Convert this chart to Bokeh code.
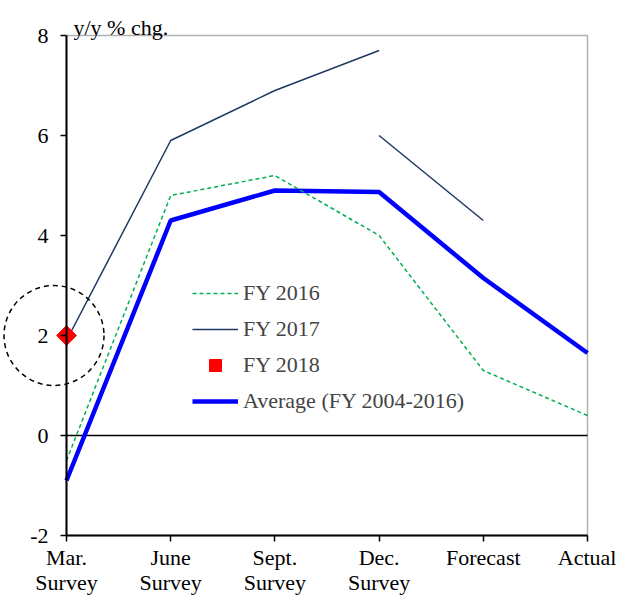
import numpy as np
from bokeh.plotting import figure
from bokeh.models import (Range1d, FixedTicker, BoxAnnotation, Label, Legend,
                          LegendItem, ColumnDataSource)
from bokeh.transform import dodge
from bokeh.embed import file_html
from bokeh.resources import INLINE

nan = float("nan")

# ---- data ----
categories = ["Mar.\nSurvey", "June\nSurvey", "Sept.\nSurvey", "Dec.\nSurvey", "Forecast", "Actual"]
fy2016 = [-0.5, 4.8, 5.2, 4.0, 1.3, 0.4]
fy2017 = [1.9, 5.9, 6.9, 7.7, nan, nan]
fy2017_late = [nan, nan, nan, 6.0, 4.3, nan]
fy2018 = [2.0, nan, nan, nan, nan, nan]
average = [-0.9, 4.3, 4.9, 4.87, 3.15, 1.65]
y_ticks = [-2, 0, 2, 4, 6, 8]
y_title = "y/y % chg."

FONT = "Liberation Serif"
FS = "22px"

xs = list(range(len(categories)))
src = ColumnDataSource(dict(x=xs, fy2016=fy2016, fy2017=fy2017, fy2017_late=fy2017_late,
                            fy2018=fy2018, average=average))

W, H = 616, 595
p = figure(width=W, height=H,
           x_range=Range1d(-0.6334, 5.2783),
           y_range=Range1d(-3.2, 8.7),
           output_backend="svg", toolbar_location=None,
           min_border_left=0, min_border_right=0, min_border_top=0, min_border_bottom=0)
p.xgrid.visible = False
p.ygrid.visible = False
p.outline_line_color = None
p.background_fill_color = "white"
p.border_fill_color = "white"

# frame box around the data area
p.add_layout(BoxAnnotation(left=xs[0], right=xs[-1], bottom=min(y_ticks), top=max(y_ticks),
                           fill_alpha=0, line_color="black", line_width=1.5))

# zero line
p.segment(x0=xs[0], x1=xs[-1], y0=0, y1=0, line_color="black", line_width=1.5)

# y axis crossing at the first category
yax = p.yaxis[0]
yax.fixed_location = xs[0]
yax.bounds = (min(y_ticks), max(y_ticks))
yax.ticker = FixedTicker(ticks=y_ticks)
yax.major_label_overrides = {t: str(t) for t in y_ticks}
yax.axis_line_width = 2
yax.major_tick_out = 6
yax.major_tick_in = 0
yax.major_tick_line_width = 1.5
yax.minor_tick_line_color = None
yax.major_label_text_font = FONT
yax.major_label_text_font_size = FS
yax.major_label_standoff = 12
yax.major_label_text_color = "black"

# x axis along the bottom of the data box
xax = p.xaxis[0]
xax.fixed_location = min(y_ticks)
xax.bounds = (xs[0], xs[-1])
xax.ticker = FixedTicker(ticks=xs)
xax.major_label_overrides = {i: c for i, c in zip(xs, categories)}
xax.axis_line_width = 2
xax.major_tick_out = 6
xax.major_tick_in = 0
xax.major_tick_line_width = 1.5
xax.minor_tick_line_color = None
xax.major_label_text_font = FONT
xax.major_label_text_font_size = FS
xax.major_label_text_line_height = 1.0
xax.major_label_standoff = 3
xax.major_label_text_color = "black"

# series
r_avg = p.line("x", "average", source=src, line_color="#0000FF", line_width=4.5)
r16 = p.line("x", "fy2016", source=src, line_color="#00B050", line_width=1.5, line_dash="4 3")
r17 = p.line("x", "fy2017", source=src, line_color="#1F3864", line_width=1.5)
r17b = p.line("x", "fy2017_late", source=src, line_color="#1F3864", line_width=1.5)
p.scatter(x=dodge("x", -0.12, range=p.x_range), y="fy2018", source=src, marker="circle",
          size=100, fill_color=None, line_color="black", line_width=1.5, line_dash="5 4")
r18 = p.scatter("x", "fy2018", source=src, marker="square", angle=np.pi / 4, size=14,
                fill_color="#FF0000", line_color="#FF0000")

legend = Legend(items=[LegendItem(label="FY 2016", renderers=[r16]),
                       LegendItem(label="FY 2017", renderers=[r17]),
                       LegendItem(label="FY 2018", renderers=[r18]),
                       LegendItem(label="Average (FY 2004-2016)", renderers=[r_avg])],
                location=(192, 179), border_line_color=None, background_fill_alpha=0,
                padding=0, margin=0, spacing=6, glyph_width=46, glyph_height=30,
                label_standoff=5, label_text_font=FONT, label_text_font_size=FS,
                label_height=20)
p.add_layout(legend)

p.add_layout(Label(x=xs[0], y=max(y_ticks), x_offset=7, y_offset=8, text=y_title,
                   text_font=FONT, text_font_size=FS, text_baseline="alphabetic",
                   text_color="black"))

open("out.html", "w").write(file_html(p, INLINE))
